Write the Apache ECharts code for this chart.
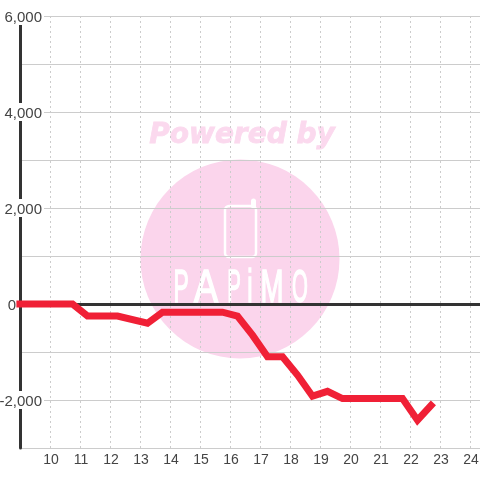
<!DOCTYPE html>
<html><head><meta charset="utf-8">
<style>html,body{margin:0;padding:0;background:#fff}#c{width:480px;height:480px}</style>
<script src="https://cdn.jsdelivr.net/npm/echarts@6/dist/echarts.min.js"></script>
</head><body><div id="c"></div>
<script>
const hours = [8.88,10.75,11.25,12.25,13.25,13.75,15.75,16.25,16.75,17.25,17.75,18.25,18.75,19.25,19.75,21.75,22.25,22.78];
const values = [0,0,-250,-250,-400,-170,-170,-250,-650,-1100,-1100,-1480,-1920,-1820,-1970,-1970,-2420,-2060];
const yLabelled = [6000,4000,2000,0,-2000];
const fmt = v => v.toLocaleString('en-US');
const pink = '#fbd5ec';
const logoLetters = [['P',181,0.95],['A',206,1.5],['P',234,0.85],['i',250,1.0],['M',272,1.15],['O',300,0.85]];
const letter = ([t,x,sx]) => ({type:'text',z:-1,silent:true,x:x,y:289,scaleX:sx,scaleY:1.95,
  style:{text:t,fill:'#fff',stroke:'#fff',lineWidth:0.8,font:'24px "Liberation Sans"',align:'center',verticalAlign:'middle'}});
const chart = echarts.init(document.getElementById('c'));
chart.setOption({
  animation:false,
  backgroundColor:'#fff',
  textStyle:{fontFamily:'Liberation Sans'},
  grid:{left:20,top:16,width:480,height:432,outerBoundsMode:'none',containLabel:false},
  graphic:[
    {type:'circle',z:-1,silent:true,shape:{cx:240,cy:259,r:99.5},style:{fill:pink}},
    {type:'text',z:-1,silent:true,x:242,y:136,style:{text:'Powered by',fill:'#fbd9ee',stroke:'#fbd9ee',lineWidth:0.8,font:'italic bold 28px "DejaVu Sans"',align:'center',verticalAlign:'middle'}},
    {type:'rect',z:-1,silent:true,shape:{x:225,y:206,width:31,height:51,r:4},style:{fill:pink,stroke:'#fff',lineWidth:2.5}},
    {type:'line',z:-1,silent:true,shape:{x1:253.5,y1:206,x2:253.5,y2:201},style:{stroke:'#fff',lineWidth:5,lineCap:'round'}}
  ].concat(logoLetters.map(letter)),
  xAxis:[
    {type:'value',position:'bottom',min:9,max:25,interval:1,
      axisLine:{show:false,onZero:false},axisTick:{show:false},
      axisLabel:{color:'#444',fontSize:14,margin:5,padding:[0,0,0,2],showMinLabel:false,formatter:v=>String(v)},
      splitLine:{show:true,lineStyle:{color:'#ccc',type:[2,3],width:1}}},
    {type:'value',position:'bottom',min:9,max:25,interval:1,
      axisLine:{show:true,onZero:true,lineStyle:{color:'#333',width:3}},axisTick:{show:false},
      axisLabel:{show:false},splitLine:{show:false}}
  ],
  yAxis:{type:'value',min:-3000,max:6000,interval:1000,
    axisLine:{show:true,onZero:false,lineStyle:{color:'#333',width:3}},axisTick:{show:false},
    splitLine:{show:true,lineStyle:{color:'#ccc',width:1}},
    axisLabel:{inside:true,align:'right',margin:24,color:'#444',fontSize:15,
      formatter:v=>{
        if(!yLabelled.includes(v)) return '';
        if(v===0) return '{z|0}';
        return '{n|'+fmt(v)+'}';
      },
      rich:{
        n:{backgroundColor:'#fff',color:'#444',fontSize:15,padding:[3,2,0,2],height:15,lineHeight:15},
        z:{color:'#444',fontSize:15,padding:[3,28,0,0]}
      }}
  },
  series:[{type:'line',data:hours.map((h,i)=>[h,values[i]]),showSymbol:false,symbol:'none',clip:false,
    lineStyle:{color:'#f02036',width:7,cap:'butt',join:'miter'}}]
});
</script></body></html>
